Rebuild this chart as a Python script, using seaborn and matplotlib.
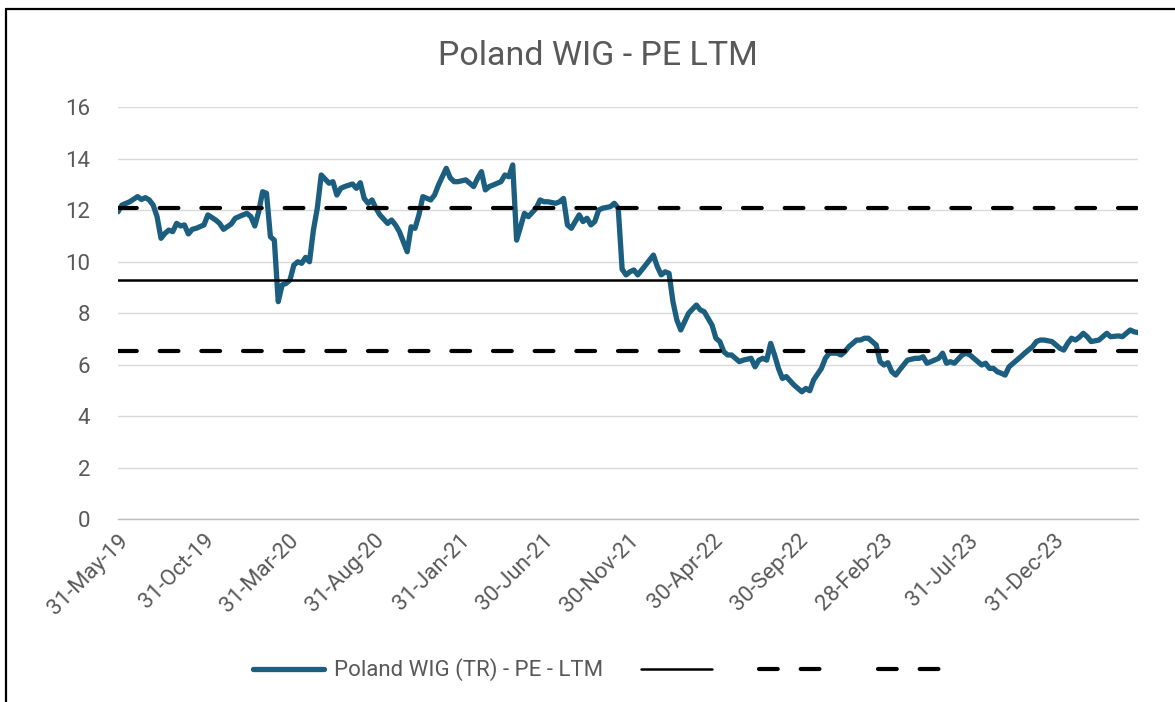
import numpy as np
import pandas as pd
import seaborn as sns
import matplotlib.pyplot as plt
import matplotlib.dates as mdates
from matplotlib.lines import Line2D

# weekly PE (LTM) of the WIG index, week number counted from 31-May-19
start_date = '2019-05-31'
weeks = [0, 1, 3, 5, 6, 7, 8, 9, 10, 11, 12, 13, 14, 15, 16, 17, 18, 19, 20, 22,
         23, 25, 26, 27, 29, 30, 32, 33, 34, 35, 36, 37, 38, 39, 40, 41, 42, 43,
         44, 45, 46, 47, 48, 49, 50, 51, 52, 54, 55, 56, 57, 58, 60, 61, 62, 63,
         64, 65, 66, 67, 69, 70, 71, 72, 74, 75, 76, 77, 78, 80, 81, 82, 84, 85,
         86, 87, 89, 90, 91, 92, 93, 94, 95, 96, 98, 99, 100, 101, 102, 103, 104,
         105, 107, 108, 109, 110, 112, 113, 114, 115, 116, 118, 119, 120, 121, 122,
         123, 124, 126, 127, 128, 129, 130, 131, 132, 133, 135, 137, 138, 139, 140,
         141, 142, 143, 144, 145, 146, 148, 149, 150, 152, 153, 154, 155, 156, 157,
         159, 160, 162, 163, 164, 165, 166, 167, 168, 169, 170, 171, 173, 175, 176,
         177, 178, 180, 181, 182, 184, 185, 186, 187, 189, 190, 191, 192, 194, 195,
         196, 197, 198, 199, 200, 201, 202, 204, 205, 206, 207, 208, 210, 211, 212,
         213, 214, 216, 217, 218, 220, 221, 222, 223, 224, 225, 226, 227, 228, 230,
         231, 232, 234, 235, 236, 237, 239, 240, 241, 242, 243, 244, 245, 246, 247,
         248, 249, 251, 252, 253, 254, 256, 257, 258, 259, 260, 261]
pe = [11.93, 12.19, 12.32, 12.52, 12.41, 12.48, 12.39, 12.19, 11.74, 10.90, 11.09, 11.22, 11.16, 11.48, 11.38, 11.42, 11.07, 11.25, 11.29, 11.42,
      11.81, 11.61, 11.48, 11.25, 11.46, 11.68, 11.81, 11.87, 11.74, 11.38, 11.93, 12.71, 12.65, 10.96, 10.83, 8.44, 9.09, 9.15,
      9.28, 9.86, 9.99, 9.93, 10.16, 9.99, 11.22, 12.07, 13.36, 13.04, 13.10, 12.58, 12.84, 12.91, 13.01, 12.84, 13.06, 12.45,
      12.26, 12.39, 12.07, 11.81, 11.48, 11.61, 11.42, 11.16, 10.38, 11.35, 11.29, 11.81, 12.52, 12.39, 12.58, 12.97, 13.62, 13.25,
      13.10, 13.10, 13.17, 13.04, 12.91, 13.23, 13.49, 12.78, 12.91, 12.97, 13.10, 13.36, 13.29, 13.75, 10.83, 11.35, 11.87,
      11.74, 12.07, 12.39, 12.32, 12.32, 12.26, 12.32, 12.45, 11.42, 11.29, 11.81, 11.55, 11.68, 11.42, 11.55,
      12.00, 12.07, 12.13, 12.26, 12.07, 9.70, 9.48, 9.60, 9.67, 9.48, 9.86, 10.25, 9.80, 9.48, 9.60,
      9.54, 8.44, 7.73, 7.34, 7.66, 7.99, 8.31, 8.12, 8.05, 7.53, 7.02, 6.89, 6.50, 6.37, 6.37,
      6.11, 6.17, 6.24, 5.91, 6.17, 6.24, 6.17, 6.82, 6.37, 5.85, 5.46, 5.53, 5.20, 4.94, 5.07,
      4.98, 5.40, 5.85, 6.24, 6.44, 6.44, 6.37, 6.50, 6.69, 6.95, 6.95, 7.02, 7.02, 6.76, 6.11,
      5.98, 6.07, 5.72, 5.59, 5.79, 5.98, 6.17, 6.24, 6.24, 6.30, 6.05, 6.11, 6.24, 6.44, 6.05,
      6.11, 6.05, 6.37, 6.44, 6.37, 6.11, 5.98, 6.05, 5.85, 5.85, 5.72, 5.66, 5.59, 5.91, 6.17,
      6.30, 6.44, 6.69, 6.89, 6.95, 6.95, 6.89, 6.76, 6.63, 6.56, 6.82, 7.02, 6.95, 7.06, 7.21,
      7.08, 6.89, 6.95, 7.08, 7.21, 7.08, 7.11, 7.08, 7.21, 7.34, 7.27, 7.24]

# average and +/- 1 std bands as drawn
mean_pe = 9.3
upper_band = 12.08
lower_band = 6.52

tick_dates = ['2019-05-31', '2019-10-31', '2020-03-31', '2020-08-31', '2021-01-31', '2021-06-30',
              '2021-11-30', '2022-04-30', '2022-09-30', '2023-02-28', '2023-07-31', '2023-12-31']
end_date = '2024-05-31'
y_ticks = [0, 2, 4, 6, 8, 10, 12, 14, 16]

df = pd.DataFrame({'date': pd.Timestamp(start_date) + pd.to_timedelta(np.array(weeks) * 7, unit='D'),
                   'pe': pe})

sns.set_style('white')
plt.rcParams['font.family'] = ['Roboto', 'DejaVu Sans']
grey = '#595959'

fig = plt.figure(figsize=(11.75, 7.02), dpi=100)
ax = fig.add_axes([118 / 1175, 1 - 519 / 702, 1020 / 1175, 412 / 702])

sns.lineplot(data=df, x='date', y='pe', ax=ax, color='#1b5e7f', lw=3.8, zorder=3,
             label='Poland WIG (TR) - PE - LTM', legend=False)
h_mean = ax.axhline(mean_pe, color='black', lw=1.8, zorder=4)
h_up = ax.axhline(upper_band, color='black', lw=3.0, ls=(0, (4.5, 5.5)), dash_capstyle='round', zorder=4)
h_low = ax.axhline(lower_band, color='black', lw=3.0, ls=(0, (4.5, 5.5)), dash_capstyle='round', zorder=4)

ax.set_ylim(0, 16)
ax.set_yticks(y_ticks)
ax.set_xlim(pd.Timestamp(start_date), pd.Timestamp(end_date))
ax.set_xticks(pd.to_datetime(tick_dates))
ax.xaxis.set_major_formatter(mdates.DateFormatter('%d-%b-%y'))
ax.grid(axis='y', color='#d9d9d9', lw=1)
ax.set_axisbelow(True)
ax.set_xlabel('')
ax.set_ylabel('')

for s in ['left', 'right', 'top']:
    ax.spines[s].set_visible(False)
ax.spines['bottom'].set_color('#bfbfbf')
ax.spines['bottom'].set_linewidth(1)

ax.tick_params(axis='y', length=0, pad=20, labelsize=16, labelcolor=grey)
ax.tick_params(axis='x', length=5, color='#bfbfbf', pad=3, labelsize=16, labelcolor=grey)
for lab in ax.get_xticklabels():
    lab.set_rotation(45)
    lab.set_ha('right')
    lab.set_rotation_mode('anchor')

fig.text(598 / 1175, 1 - 65 / 702, 'Poland WIG - PE LTM', ha='center', va='baseline',
         fontsize=24.5, color=grey)

handles = [ax.get_lines()[0], h_mean, h_up, h_low]
fig.legend(handles, ['Poland WIG (TR) - PE - LTM', '', '', ''], ncol=4, frameon=False,
           loc='center', bbox_to_anchor=(606 / 1175, 1 - 670 / 702), fontsize=16,
           labelcolor=grey, handlelength=3.2, handletextpad=0.45, columnspacing=1.7)

# screenshot border on top and left
fig.add_artist(Line2D([6 / 1175, 6 / 1175], [0, 1 - 9 / 702], transform=fig.transFigure, color='black', lw=1.6))
fig.add_artist(Line2D([6 / 1175, 1], [1 - 9 / 702, 1 - 9 / 702], transform=fig.transFigure, color='black', lw=1.6))

fig.savefig('out.png', dpi=100)
